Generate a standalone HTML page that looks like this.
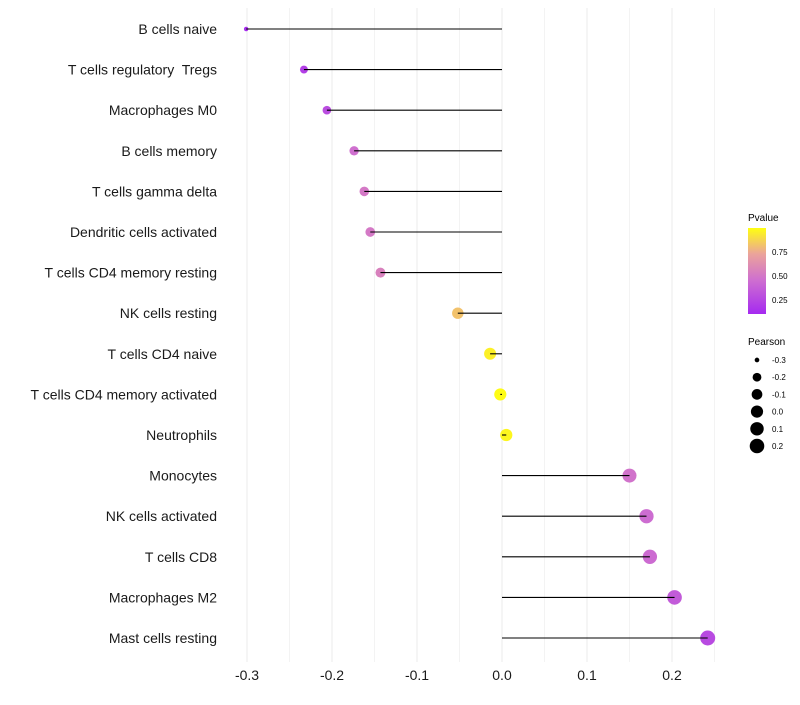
<!DOCTYPE html>
<html><head><meta charset="utf-8"><style>
body{margin:0;background:#fff;font-family:"Liberation Sans",sans-serif}
svg text{font-family:"Liberation Sans",sans-serif;white-space:pre}
</style></head><body>
<svg id="chart" width="800" height="700" xmlns="http://www.w3.org/2000/svg">
<g id="grid"></g>
<g id="marks"></g>
<g id="ylabels"></g>
<g id="xlabels"></g>
<g id="legend">
<defs><linearGradient id="pg" x1="0" y1="1" x2="0" y2="0">
<stop offset="0" stop-color="#a52af0"/><stop offset="0.4" stop-color="#cf70cf"/><stop offset="0.7" stop-color="#eba49a"/><stop offset="1" stop-color="#ffff10"/></linearGradient></defs>
<text x="748" y="221" font-size="10">Pvalue</text>
<rect x="748" y="228" width="18" height="86" fill="url(#pg)"/>
<text x="772" y="255" font-size="8">0.75</text>
<text x="772" y="279" font-size="8">0.50</text>
<text x="772" y="303" font-size="8">0.25</text>
<text x="748" y="345" font-size="10">Pearson</text>
</g>
</svg>
<script>
const categories=["B cells naive","T cells regulatory  Tregs","Macrophages M0","B cells memory","T cells gamma delta","Dendritic cells activated","T cells CD4 memory resting","NK cells resting","T cells CD4 naive","T cells CD4 memory activated","Neutrophils","Monocytes","NK cells activated","T cells CD8","Macrophages M2","Mast cells resting"];
const pearson=[-0.301,-0.233,-0.206,-0.174,-0.162,-0.155,-0.143,-0.052,-0.014,-0.002,0.005,0.150,0.170,0.174,0.203,0.242];
const pvalues=[0.02,0.12,0.2,0.4,0.45,0.45,0.5,0.8,0.95,0.99,0.97,0.42,0.38,0.37,0.28,0.18];
const xTicks=[-0.3,-0.2,-0.1,0.0,0.1,0.2];
const xTickLabels=["-0.3","-0.2","-0.1","0.0","0.1","0.2"];
const sizeLegend=[-0.3,-0.2,-0.1,0.0,0.1,0.2];
const NS="http://www.w3.org/2000/svg";
const x=v=>502+v*850;
const y=i=>29+i*40.6;
const rad=v=>2+5.5*Math.sqrt(Math.max(0,(v+0.302)/0.544));
function col(p){const st=[[0,[165,42,240]],[0.4,[207,112,207]],[0.7,[235,164,154]],[1,[255,255,16]]];
 for(let k=1;k<st.length;k++){if(p<=st[k][0]){const t=(p-st[k-1][0])/(st[k][0]-st[k-1][0]);const a=st[k-1][1],b=st[k][1];return`rgb(${a.map((c,j)=>Math.round(c+(b[j]-c)*t)).join(",")})`;}}return"rgb(255,255,16)";}
function mk(tag,at,parent){const e=document.createElementNS(NS,tag);for(const k in at)e.setAttribute(k,at[k]);document.getElementById(parent).appendChild(e);return e;}
for(let k=-6;k<=5;k++){const v=k*0.05;const l=mk("line",{x1:x(v),x2:x(v),y1:8,y2:662,stroke:"#ebebeb","stroke-width":k%2===0?1:0.6},"grid");

}
xTicks.forEach((v,i)=>{const t=mk("text",{x:x(v),y:680,"font-size":14,"text-anchor":"middle",fill:"#1a1a1a"},"xlabels");t.textContent=xTickLabels[i];

});
categories.forEach((c,i)=>{
 const t=mk("text",{x:217,y:y(i)+5,"font-size":14,"text-anchor":"end",fill:"#1a1a1a"},"ylabels");t.textContent=c;
 
 
});
categories.forEach((c,i)=>{
 const ci=mk("circle",{cx:x(pearson[i]),cy:y(i),r:rad(pearson[i]),fill:col(pvalues[i])},"marks");
 
 
 const ln=mk("line",{x1:x(0),x2:x(pearson[i]),y1:y(i),y2:y(i),stroke:"#000","stroke-width":1.1},"marks");
 
 
});
sizeLegend.forEach((v,i)=>{const yy=360+i*17.2;
 const c=mk("circle",{cx:757,cy:yy,r:rad(v),fill:"#000"},"legend");
 
 
 const t=mk("text",{x:772,y:yy+3,"font-size":8},"legend");t.textContent=v.toFixed(1);
 
 });
</script>
</body></html>
